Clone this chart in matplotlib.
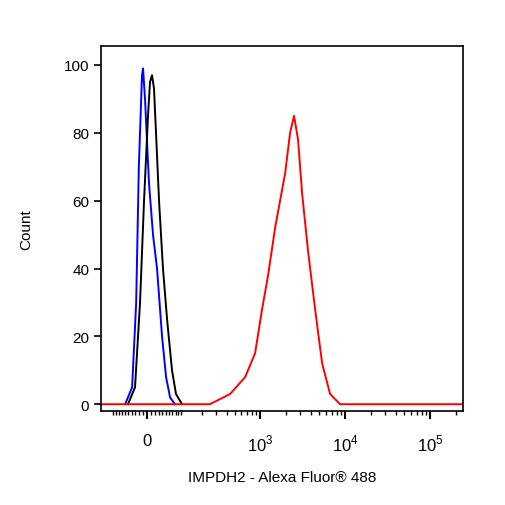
import numpy as np
import matplotlib
matplotlib.use("Agg")
import matplotlib.pyplot as plt
from matplotlib.scale import FuncScale

plt.rcParams['font.family'] = ['Liberation Sans', 'DejaVu Sans']
plt.rcParams['mathtext.fontset'] = 'custom'
plt.rcParams['mathtext.rm'] = 'Liberation Sans'

W = 94.0
def fwd(v): return np.arcsinh(np.asarray(v, float) / W)
def inv(t): return W * np.sinh(np.asarray(t, float))

red_x = [-150, 250, 441, 667, 875, 1059, 1247, 1508, 1727, 1978, 2265, 2520, 2810, 3140, 3690, 4460, 5400, 6700, 8780, 245000]
red_y = [0, 0, 3, 8, 15, 28, 38, 52, 60, 68, 80, 85, 78, 62, 45, 28, 12, 3, 0, 0]
blue_x = [-59, -39, -28, -21, -12.8, -10.2, -5.1, 5.1, 15.3, 25.8, 39.3, 50.7, 62.6, 78]
blue_y = [0, 5, 30, 70, 97, 99, 90, 65, 50, 40, 20, 8, 2, 0]
black_x = [-50.7, -31.1, -17.9, -7.6, 2.5, 7.6, 12.8, 17.9, 23.1, 31.1, 41.9, 53.6, 68.6, 81.6, 103]
black_y = [0, 5, 30, 60, 85, 95, 97, 93, 80, 60, 40, 25, 10, 3, 0]

fig = plt.figure(figsize=(5.06, 5.06), dpi=100)
ax = fig.add_axes([101/506, 1-412/506, 362/506, 365/506])
ax.set_xscale(FuncScale(ax, (fwd, inv)))
kw = dict(lw=1.4, solid_joinstyle="round")
ax.plot(blue_x, blue_y, color="#0000ff", **kw)
ax.plot(black_x, black_y, color="black", **kw)
ax.plot(red_x, red_y, color="#ff0000", **kw)
ax.set_xlim(-150, 245000)
ax.set_ylim(-2, 105.6)

ax.set_xticks([0, 1e3, 1e4, 1e5])
ax.set_xticklabels(["0", r"$10^3$", r"$10^4$", r"$10^5$"], fontsize=12)
minor = list(np.arange(-100, 0, 10)) + list(np.arange(10, 100, 10)) + \
        [m * 10**k for k in (2, 3, 4) for m in range(1, 10) if m * 10**k not in (1e3, 1e4, 1e5)] + [2e5]
ax.set_xticks(minor, minor=True)
ax.set_yticks([0, 20, 40, 60, 80, 100])
ax.tick_params(axis="y", labelsize=11, length=5, width=1.2)
ax.tick_params(axis="x", which="major", length=6, width=1.5, pad=10)
ax.tick_params(axis="x", which="minor", length=3, width=1)
for s in ax.spines.values():
    s.set_linewidth(1.2)
ax.set_ylabel("Count", fontsize=11, labelpad=22)
ax.set_xlabel("IMPDH2 - Alexa Fluor® 488", fontsize=11, labelpad=12)
fig.savefig("out.png", dpi=100)
